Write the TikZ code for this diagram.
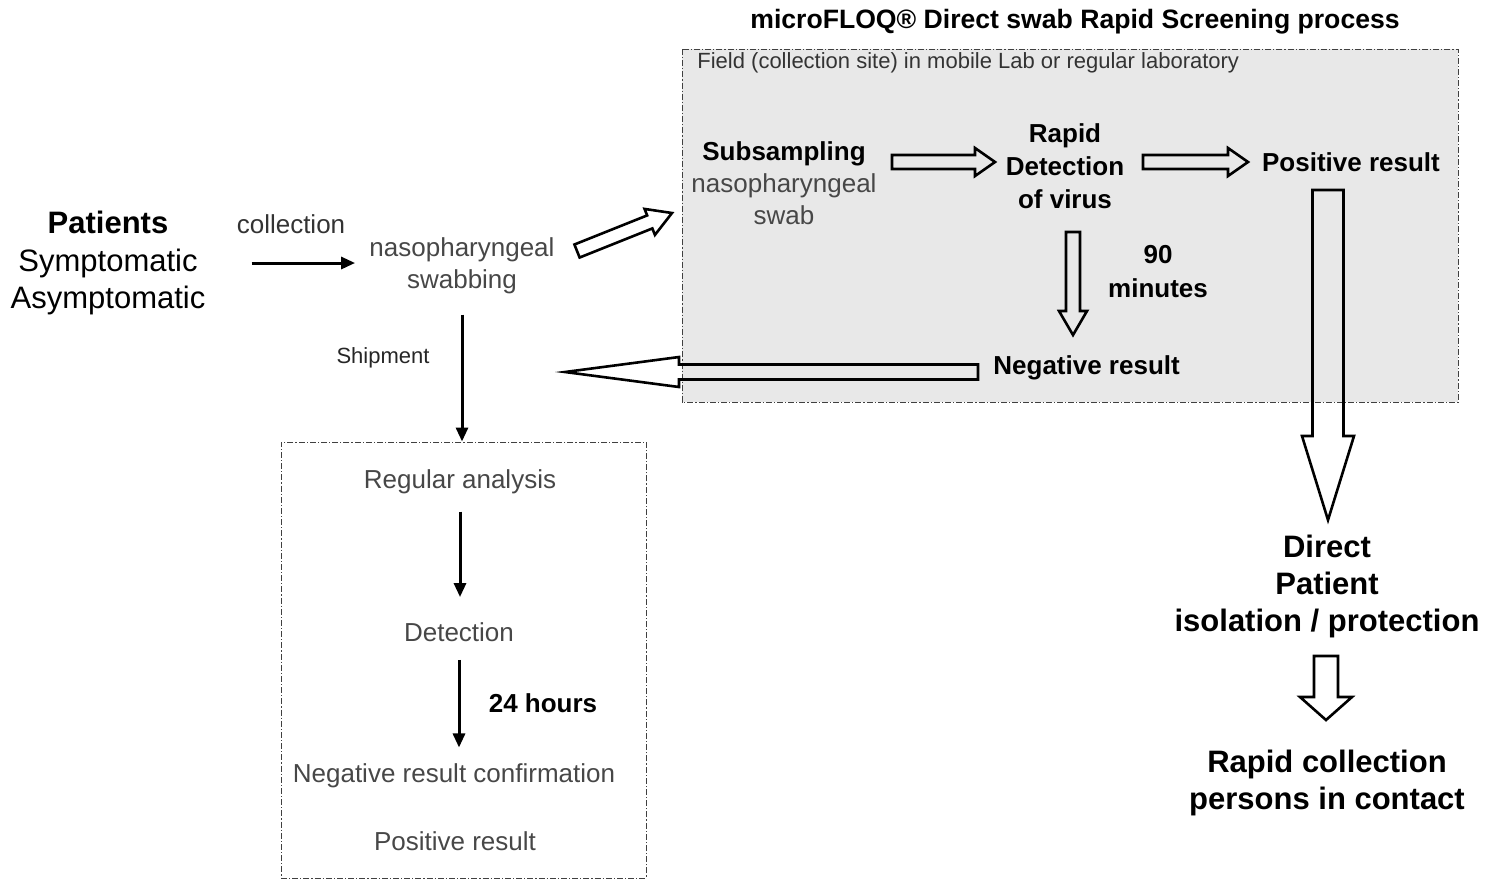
\documentclass[tikz,border=0pt]{standalone}
\usepackage{fontspec}
\setmainfont{Liberation Sans}
\usetikzlibrary{positioning}
\usetikzlibrary{calc}
\usetikzlibrary{arrows.meta}
\tikzstyle{txt}=[align=center, inner sep=1pt, font=\fontsize{13}{16}\selectfont]
\tikzstyle{soft}=[txt, text=black!72]
\tikzstyle{strong}=[txt, font=\fontsize{13}{16.5}\selectfont\bfseries]
\tikzstyle{big}=[txt, font=\fontsize{15.5}{18.8}\selectfont]
\tikzstyle{frame}=[draw=black!75, line width=0.5pt, dash pattern=on 3pt off 1pt on 0.6pt off 1pt]
\tikzstyle{link}=[->, line width=1.5pt]
\tikzstyle{fat}=[draw, line width=1.3pt, line join=miter]

% hollow arrow: from, to, half shaft, half head, head length
\newcommand{\fatarrow}[5]{%
  \coordinate (fatbase) at ($(#2)!#5!(#1)$);
  \draw[fat] ($(#1)!#3!90:(#2)$) -- ($(fatbase)!#3!90:(#2)$) -- ($(fatbase)!#4!90:(#2)$) -- (#2)
    -- ($(fatbase)!#4!-90:(#2)$) -- ($(fatbase)!#3!-90:(#2)$) -- ($(#1)!#3!-90:(#2)$) -- cycle;}

\begin{document}
\begin{tikzpicture}[x=0.5pt, y=-0.5pt, >={Triangle[length=7pt,width=6pt]}]
    \useasboundingbox (0,0) rectangle (1499,880);

    % rapid screening site
    \draw[frame, fill=black!9] (682,49) rectangle (1458,402);
    \node[strong, font=\fontsize{13.3}{15}\selectfont\bfseries] (title) at (1075,22) {microFLOQ® Direct swab Rapid Screening process};
    \node[txt, anchor=west, font=\fontsize{11}{13}\selectfont, text=black!80] (field) at (695,63) {Field (collection site) in mobile Lab or regular laboratory};

    \node[txt]                 (sub)    at (784,183)  {\textbf{Subsampling}\\{\color{black!72}nasopharyngeal}\\{\color{black!72}swab}};
    \node[strong]              (rapid)  at (1065,166) {Rapid\\Detection\\of virus};
    \node[strong]              (pos)    at (1351,162) {Positive result};
    \node[strong, font=\fontsize{13}{17}\selectfont\bfseries] (ninety) at (1158,272) {90\\minutes};
    \node[strong, anchor=west] (neg)    at (991,368)  {Negative result};

    % collection
    \node[big]                 (patients)   at (108,263) {\textbf{Patients}\\Symptomatic\\Asymptomatic};
    \node[soft, text=black!80] (collection) at (291,224) {collection};
    \node[soft]                (swabbing)   at (462,266) {nasopharyngeal\\swabbing};
    \node[soft, font=\fontsize{11}{13}\selectfont, text=black!85] (shipment) at (383,358) {Shipment};

    % regular laboratory
    \node[frame, minimum width=182.5pt, minimum height=218pt] (lab) at (463.5,660) {};
    \node[soft]   (regular) at (460,482) {Regular analysis};
    \node[soft]   (detect)  at (459,632) {Detection};
    \node[strong] (hours)   at (543,703) {24 hours};
    \node[soft]   (negconf) at (454,776) {Negative result confirmation};
    \node[soft]   (posres)  at (455,841) {Positive result};

    % consequences
    \node[big, font=\fontsize{15.5}{18.5}\selectfont\bfseries] (direct)  at (1327,586) {Direct\\Patient\\isolation / protection};
    \node[big, font=\fontsize{15.5}{18.5}\selectfont\bfseries] (contact) at (1327,783) {Rapid collection\\persons in contact};

    \draw[link, shorten <=22pt, shorten >=6pt] (patients.east) -- (patients.east -| swabbing.west);
    \draw[link, shorten <=9pt] (swabbing.south) -- (swabbing.south |- lab.north);
    \draw[link, shorten <=7.5pt, shorten >=11.5pt] (regular.south) -- (regular.south |- detect.north);
    \draw[link, shorten <=8pt, shorten >=7pt] (detect.south) -- (detect.south |- negconf.north);

    % hollow arrows
    \coordinate (swabOut)   at (577,251);
    \coordinate (siteIn)    at (672,213);
    \coordinate (subOut)    at (892,162);
    \coordinate (rapidIn)   at (995,162);
    \coordinate (rapidOut)  at (1143,162);
    \coordinate (posIn)     at (1248,162);
    \coordinate (rapidDown) at (1073,232);
    \coordinate (negIn)     at (1073,335);
    \coordinate (negOut)    at (978,372);
    \coordinate (backIn)    at (565,372);
    \coordinate (posOut)    at (1328,190);
    \coordinate (directIn)  at (1328,520);
    \coordinate (directOut) at (1326,656);
    \coordinate (contactIn) at (1326,720);

    \fatarrow{swabOut}{siteIn}{3.5pt}{7pt}{12pt}
    \fatarrow{subOut}{rapidIn}{3.5pt}{7pt}{10pt}
    \fatarrow{rapidOut}{posIn}{3.5pt}{7pt}{10pt}
    \fatarrow{rapidDown}{negIn}{3.5pt}{7pt}{12pt}
    \fatarrow{negOut}{backIn}{3.75pt}{7.5pt}{57pt}
    \fatarrow{posOut}{directIn}{7.75pt}{13pt}{42pt}
    \fatarrow{directOut}{contactIn}{6pt}{13pt}{11.5pt}
\end{tikzpicture}
\end{document}
